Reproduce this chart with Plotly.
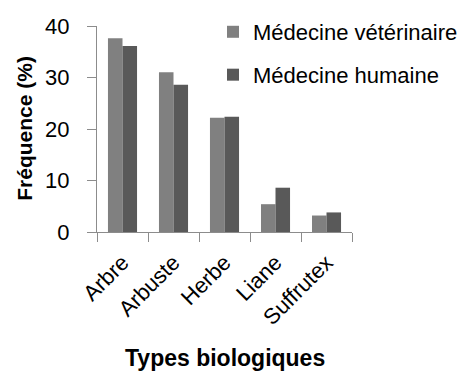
import plotly.graph_objects as go

categories = ["Arbre", "Arbuste", "Herbe", "Liane", "Suffrutex"]
veterinaire = [37.6, 31.0, 22.2, 5.4, 3.2]
humaine = [36.1, 28.6, 22.4, 8.6, 3.8]
series_names = ["Médecine vétérinaire", "Médecine humaine"]
y_ticks = [0, 10, 20, 30, 40]

FONT = "Liberation Sans, Arial, sans-serif"

L, T, PW, PH = 89, 17.5, 255, 206.5
W, H = 467, 372
R, B = W - L - PW, H - T - PH


def py(pix):
    return (T + PH - pix) / PH


fig = go.Figure()
fig.add_trace(go.Bar(x=categories, y=veterinaire, name=series_names[0],
                     marker=dict(color="#808080", line=dict(width=0)),
                     legend="legend", showlegend=True))
fig.add_trace(go.Bar(x=categories, y=humaine, name=series_names[1],
                     marker=dict(color="#595959", line=dict(width=0)),
                     legend="legend2", showlegend=True))

leg_common = dict(xanchor="left", yanchor="middle", font=dict(size=22),
                  bgcolor="rgba(0,0,0,0)", itemwidth=30, visible=True)

fig.update_layout(
    width=W, height=H, showlegend=True,
    margin=dict(l=L, r=R, t=T, b=B, pad=0, autoexpand=False),
    paper_bgcolor="white", plot_bgcolor="white",
    barmode="group", bargap=0.43, bargroupgap=0,
    font=dict(family=FONT, color="black", size=21),
    legend=dict(x=(205 - L) / PW, y=py(23.5), **leg_common),
    legend2=dict(x=(205 - L) / PW, y=py(66.5), **leg_common),
    xaxis=dict(type="category", showline=True, linecolor="#8c8c8c", linewidth=1,
               ticks="outside", tickson="boundaries", ticklen=9, tickcolor="#8c8c8c",
               tickangle=-45, tickfont=dict(size=22), ticklabelstandoff=8,
               showgrid=False, automargin=False),
    yaxis=dict(range=[0, 40], tickvals=y_ticks, showline=True, linecolor="#8c8c8c",
               linewidth=1, ticks="outside", ticklen=9, tickcolor="#8c8c8c",
               tickfont=dict(size=22), ticklabelstandoff=13, showgrid=False,
               zeroline=False, automargin=False),
    annotations=[
        dict(text="<b>Types biologiques</b>", x=0.5, y=py(350),
             xref="paper", yref="paper", xanchor="center", yanchor="middle",
             showarrow=False, font=dict(size=23)),
        dict(text="<b>Fréquence (%)</b>", x=(17 - L) / PW, y=py(120.5),
             xref="paper", yref="paper", xanchor="center", yanchor="middle",
             showarrow=False, textangle=-90, font=dict(size=21)),
    ],
)

fig.write_html("out.html")
